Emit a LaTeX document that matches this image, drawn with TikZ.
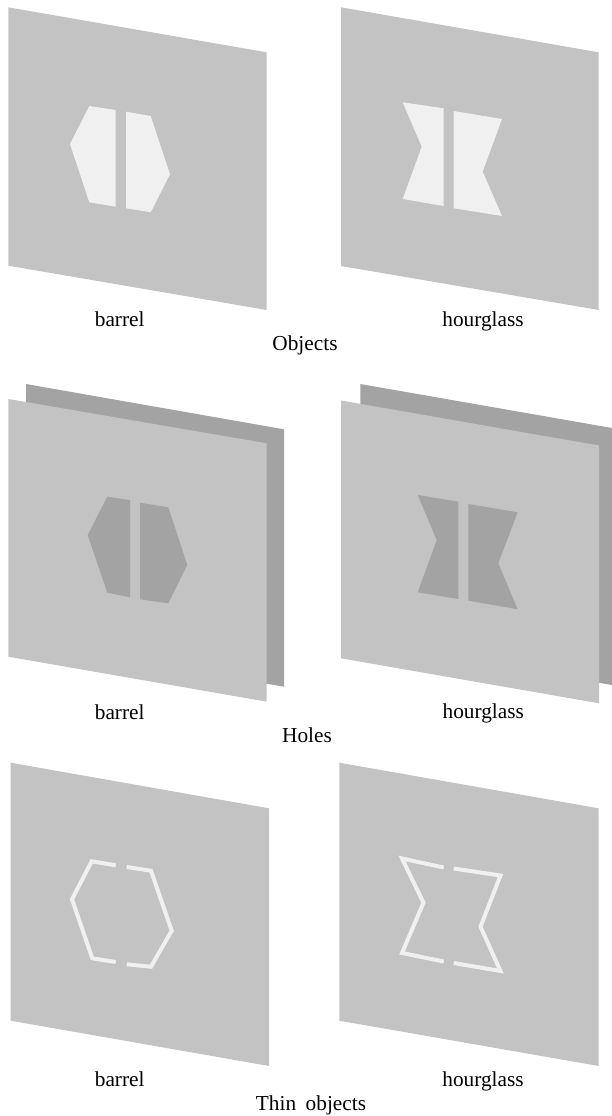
\documentclass[tikz,border=0pt]{standalone}
\usepackage{fontspec}
\setmainfont{Liberation Serif}
\definecolor{panelgray}{gray}{0.765}
\definecolor{backgray}{gray}{0.64}
\definecolor{objlight}{gray}{0.94}
\begin{document}
\begin{tikzpicture}[x=1pt, y=-1pt,
  panel/.style={fill=panelgray},
  backpanel/.style={fill=backgray},
  solidobj/.style={fill=objlight},
  holeobj/.style={fill=backgray},
  thinobj/.style={draw=objlight, line width=4pt, line join=miter},
  lbl/.style={anchor=base, inner sep=0pt, font=\fontsize{21.3}{25}\selectfont}]

  \useasboundingbox (0,0) rectangle (612,1116);

  % -- Objects --
  \fill[panel] (8.3,7.3) -- (266.7,52.3) -- (266.7,310) -- (8.3,265.7) -- cycle;
  \fill[solidobj] (89.3,106) -- (115.7,110) -- (115.7,206.7) -- (89.3,202.3) -- (70,144) -- cycle;
  \fill[solidobj] (126,111.7) -- (150.7,116) -- (170,174.3) -- (150.7,212.3) -- (126,208.3) -- cycle;

  \fill[panel] (341,7.3) -- (598.7,52.3) -- (598.7,310) -- (341,266) -- cycle;
  \fill[solidobj] (402.7,102.3) -- (443.7,108.3) -- (443.7,206) -- (402.7,199) -- (421.7,146.7) -- cycle;
  \fill[solidobj] (453.7,111) -- (502,119) -- (482.7,171.7) -- (502,216) -- (453.7,208.3) -- cycle;

  \node[lbl] (objbarrel) at (119.7,326.7) {barrel};
  \node[lbl] (objhour) at (483,326) {hourglass};
  \node[lbl] (objtitle) at (305,350.7) {Objects};

  % -- Holes --
  \fill[backpanel] (26,384) -- (284,429.3) -- (284,686.7) -- (26,642) -- cycle;
  \fill[panel] (8.3,399) -- (266.7,443.3) -- (266.7,701.7) -- (8.3,656.7) -- cycle;
  \fill[holeobj] (107.3,496.7) -- (130,500) -- (130,597.3) -- (107.3,592.7) -- (87.7,535) -- cycle;
  \fill[holeobj] (140,502.7) -- (168.3,507.3) -- (187.3,565) -- (168.3,603.3) -- (140,599.3) -- cycle;

  \fill[backpanel] (360.3,384) -- (612,428) -- (612,685) -- (360.3,642) -- cycle;
  \fill[panel] (341,400.5) -- (599,445.5) -- (599,703.3) -- (341,658.3) -- cycle;
  \fill[holeobj] (417.7,495) -- (458.3,501.7) -- (458.3,599) -- (417.7,592.3) -- (436.7,540) -- cycle;
  \fill[holeobj] (468.3,504) -- (517.7,512.3) -- (498.3,563.3) -- (517.7,609.3) -- (468.3,600.7) -- cycle;

  \node[lbl] (holebarrel) at (119.7,719) {barrel};
  \node[lbl] (holehour) at (483.3,718.3) {hourglass};
  \node[lbl] (holetitle) at (307,742.7) {Holes};

  % -- Thin objects --
  \fill[panel] (10.7,762.7) -- (269,808.3) -- (269,1066) -- (10.7,1020.7) -- cycle;
  \draw[thinobj] (115.7,865.3) -- (91.7,861.3) -- (72,899.3) -- (92.3,958.3) -- (115.7,962);
  \draw[thinobj] (126.7,867) -- (151,870.7) -- (171.7,930.7) -- (151,966.7) -- (126.7,964.3);

  \fill[panel] (339.3,762.7) -- (598.7,808.3) -- (598.7,1066) -- (339.3,1020.7) -- cycle;
  \draw[thinobj] (443.7,867.5) -- (402,858.5) -- (423.5,902.7) -- (402,953) -- (443.7,961.5);
  \draw[thinobj] (453.7,868.5) -- (500.5,875.5) -- (480.5,926.7) -- (500.5,971) -- (453.7,963);

  \node[lbl] (thinbarrel) at (119.7,1086.7) {barrel};
  \node[lbl] (thinhour) at (483,1086) {hourglass};
  \node[lbl] (thintitle) at (311,1110.7) {Thin\hskip 0.45em objects};

\end{tikzpicture}
\end{document}
